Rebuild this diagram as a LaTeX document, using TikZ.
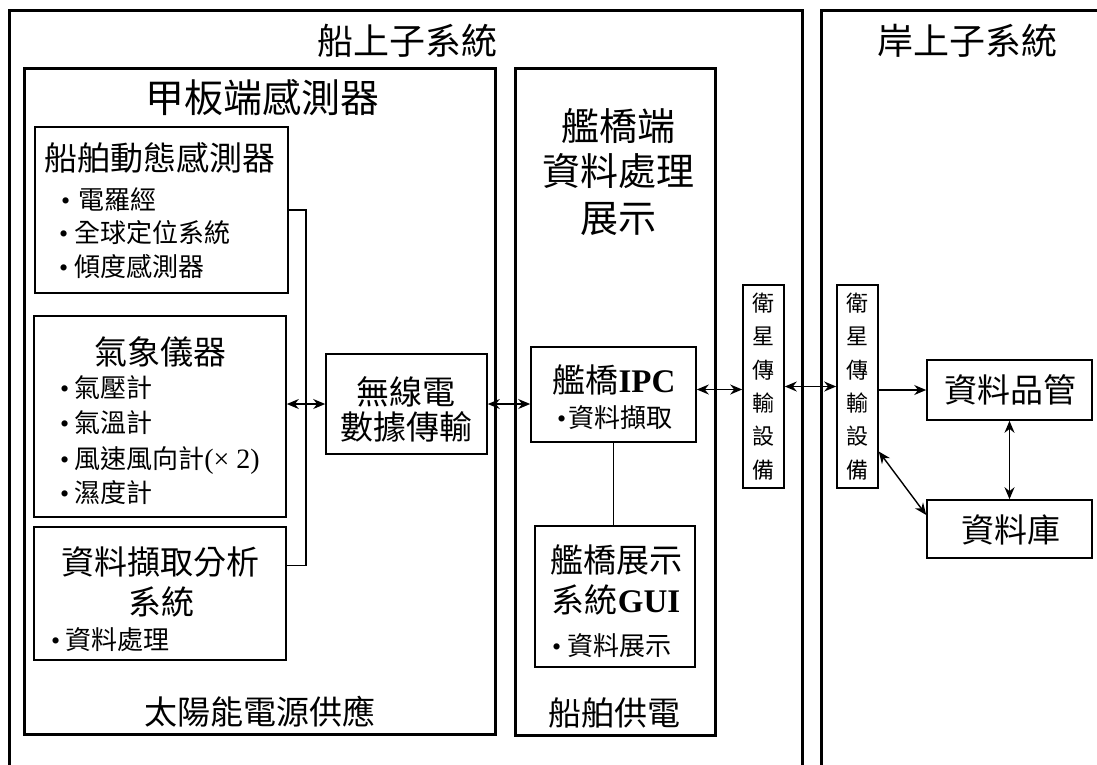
\documentclass[tikz,border=0pt]{standalone}
\usepackage{fontspec}
\setmainfont{Liberation Serif}
\newfontfamily\cjk{Noto Sans CJK TC}
\usetikzlibrary{arrows.meta}
\begin{document}
\begin{tikzpicture}[x=1pt,y=-1pt,
  frame/.style={draw, line width=3pt, inner sep=0pt},
  outer/.style={line width=3pt},
  box/.style={draw, line width=1.6pt, inner sep=0pt},
  ttl/.style={font=\cjk\fontsize{36}{40}\selectfont, inner sep=0pt},
  mid/.style={font=\cjk\fontsize{33}{36}\selectfont, inner sep=0pt},
  sml/.style={font=\cjk\fontsize{26}{28}\selectfont, inner sep=0pt, anchor=west},
  sattxt/.style={font=\cjk\fontsize{22}{33.4}\selectfont, inner sep=0pt, align=center},
  conn/.style={line width=1.4pt},
  dbl/.style={conn, {Stealth[length=12pt,width=10pt]}-{Stealth[length=12pt,width=10pt]}},
  one/.style={conn, -{Stealth[length=12pt,width=10pt]}},
]
\useasboundingbox (0,0) rectangle (1097,764);
\fill[white] (0,0) rectangle (1097,764);

% outer subsystems
\draw[outer] (9,770) -- (9,10) -- (802,10) -- (802,770);
\draw[outer] (821,770) -- (821,10) -- (1100,10);
\node[ttl] (shipT) at (407,41) {船上子系統};
\node[ttl] (shoreT) at (967,41) {岸上子系統};

% deck sensor frame
\node[frame, minimum width=471pt, minimum height=666pt] (deck) at (259.5,401) {};
\node[ttl, font=\cjk\fontsize{39}{42}\selectfont] (deckT) at (262,98) {甲板端感測器};
\node[mid] (solar) at (260,712) {太陽能電源供應};

% bridge frame
\node[frame, minimum width=200pt, minimum height=667pt] (bridge) at (615,401.5) {};
\node[ttl, font=\cjk\fontsize{38}{42}\selectfont] (bT1) at (618,126) {艦橋端};
\node[ttl, font=\cjk\fontsize{38}{42}\selectfont] (bT2) at (618,171) {資料處理};
\node[ttl, font=\cjk\fontsize{38}{42}\selectfont] (bT3) at (618,219) {展示};
\node[mid] (power) at (614,713) {船舶供電};

% ship motion sensors
\node[box, minimum width=253pt, minimum height=166pt] (dyn) at (161.5,210) {};
\node[mid] (dynT) at (160,158) {船舶動態感測器};
\node[sml] (d1) at (61,200) {{\rmfamily •}\hspace{8pt}電羅經};
\node[sml] (d2) at (59,233) {{\rmfamily •}\hspace{6pt}全球定位系統};
\node[sml] (d3) at (59,267) {{\rmfamily •}\hspace{6pt}傾度感測器};

% meteorological instruments
\node[box, minimum width=252pt, minimum height=201pt] (met) at (160,416.5) {};
\node[mid] (metT) at (160,352) {氣象儀器};
\node[sml] (m1) at (60,388) {{\rmfamily •}\hspace{5pt}氣壓計};
\node[sml] (m2) at (60,423) {{\rmfamily •}\hspace{5pt}氣溫計};
\node[sml] (m3) at (60,460) {{\rmfamily •}\hspace{5pt}風速風向計{\rmfamily\fontsize{28}{30}\selectfont (× 2)}};
\node[sml] (m4) at (60,493) {{\rmfamily •}\hspace{5pt}濕度計};

% data acquisition analysis
\node[box, minimum width=252pt, minimum height=133pt] (ana) at (160,593.5) {};
\node[mid] (anaT1) at (160,562) {資料擷取分析};
\node[mid] (anaT2) at (161,602) {系統};
\node[sml] (a1) at (51,640) {{\rmfamily •}\hspace{5pt}資料處理};

% radio
\node[box, minimum width=161pt, minimum height=100pt] (radio) at (406.5,404) {};
\node[mid] (r1) at (406,392) {無線電};
\node[mid] (r2) at (406,427) {數據傳輸};

% bridge IPC
\node[box, minimum width=165pt, minimum height=95pt] (ipc) at (613.5,394.5) {};
\node[mid] (i1) at (614,380) {艦橋{\rmfamily\bfseries IPC}};
\node[sml] (i2) at (557,418) {{\rmfamily •}\hspace{2pt}資料擷取};

% bridge GUI
\node[box, minimum width=160pt, minimum height=141pt] (gui) at (615,596.5) {};
\node[mid] (g1) at (616,560) {艦橋展示};
\node[mid] (g2) at (616,600) {系統{\rmfamily\bfseries GUI}};
\node[sml] (g3) at (552,646) {{\rmfamily •}\hspace{6pt}資料展示};

% satellite equipment
\node[box, minimum width=41pt, minimum height=203pt] (sat1) at (763.5,386.5) {};
\node[sattxt] (s1t) at (763.5,386.5) {衛\\星\\傳\\輸\\設\\備};
\node[box, minimum width=41pt, minimum height=203pt] (sat2) at (857.5,386.5) {};
\node[sattxt] (s2t) at (857.5,386.5) {衛\\星\\傳\\輸\\設\\備};

% shore boxes
\node[box, minimum width=165pt, minimum height=60pt] (qc) at (1009.5,390) {};
\node[mid] (qcT) at (1010,390) {資料品管};
\node[box, minimum width=165pt, minimum height=58pt] (db) at (1009.5,529) {};
\node[mid] (dbT) at (1011,530) {資料庫};

% connectors
\coordinate (bx) at (306,0);
\coordinate (anaC) at ([yshift=28pt]ana.east);
\draw[conn] (dyn.east) -- (dyn.east -| bx) -- (anaC -| bx) -- (anaC);
\draw[dbl] (radio.west -| met.east) -- (radio.west);
\draw[dbl] (radio.east) -- (radio.east -| ipc.west);
\coordinate (ipcR) at ([yshift=5pt]ipc.east);
\draw[dbl] (ipcR) -- (ipcR -| sat1.west);
\draw[conn] (ipc.south) -- (ipc.south |- gui.north);
\draw[dbl] (sat1.east) -- (sat2.west);
\draw[one] (qc.west -| sat2.east) -- (qc.west);
\draw[dbl] (qc.south) -- (db.north);
\coordinate (s2d) at ([yshift=-65pt]sat2.east);
\coordinate (dbw) at ([yshift=14pt]db.west);
\draw[dbl] (s2d) -- (dbw);
\end{tikzpicture}
\end{document}
